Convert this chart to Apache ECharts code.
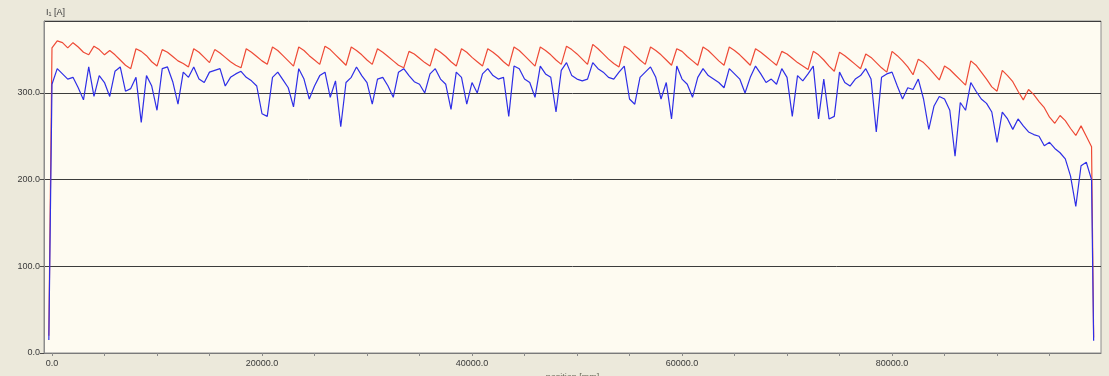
<!DOCTYPE html>
<html>
<head>
<meta charset="utf-8">
<script src="https://cdn.jsdelivr.net/npm/echarts@6/dist/echarts.min.js"></script>
<style>
html,body{margin:0;padding:0;background:#ECE9DB;}
#c{width:1109px;height:376px;}
</style>
</head>
<body>
<div id="c"></div>
<script>
// x positions [mm]
const pos = [-300,
0,500,1000,1500,2000,2500,3000,3500,4000,4500,
5000,5500,6000,6500,7000,7500,8000,8500,9000,9500,
10000,10500,11000,11500,12000,12500,13000,13500,14000,14500,
15000,15500,16000,16500,17000,17500,18000,18500,19000,19500,
20000,20500,21000,21500,22000,22500,23000,23500,24000,24500,
25000,25500,26000,26500,27000,27500,28000,28500,29000,29500,
30000,30500,31000,31500,32000,32500,33000,33500,34000,34500,
35000,35500,36000,36500,37000,37500,38000,38500,39000,39500,
40000,40500,41000,41500,42000,42500,43000,43500,44000,44500,
45000,45500,46000,46500,47000,47500,48000,48500,49000,49500,
50000,50500,51000,51500,52000,52500,53000,53500,54000,54500,
55000,55500,56000,56500,57000,57500,58000,58500,59000,59500,
60000,60500,61000,61500,62000,62500,63000,63500,64000,64500,
65000,65500,66000,66500,67000,67500,68000,68500,69000,69500,
70000,70500,71000,71500,72000,72500,73000,73500,74000,74500,
75000,75500,76000,76500,77000,77500,78000,78500,79000,79500,
80000,80500,81000,81500,82000,82500,83000,83500,84000,84500,
85000,85500,86000,86500,87000,87500,88000,88500,89000,89500,
90000,90500,91000,91500,92000,92500,93000,93500,94000,94500,
95000,95500,96000,96500,97000,97500,98000,98500,99000,
99200];

// red series (upper) [A]
const redVals = [20,
352,360,358,352,358,353,347,344,354,350,
344,349,344,338,332,328,351,348,343,336,
331,350,347,342,337,334,330,351,347,341,
335,350,346,341,336,332,329,351,347,342,
337,333,353,349,343,337,331,353,349,343,
338,333,354,350,344,338,332,353,349,344,
338,333,351,347,342,337,332,329,348,345,
340,335,331,351,347,342,336,331,351,347,
341,336,331,351,347,342,336,331,353,349,
343,337,331,353,349,344,338,333,354,350,
345,339,333,356,351,345,339,334,330,354,
350,344,338,333,353,349,344,338,332,351,
348,342,337,332,353,349,343,337,332,353,
349,344,338,332,351,347,342,337,332,348,
345,340,335,331,327,348,344,338,331,325,
347,343,338,333,328,345,341,335,329,324,
348,343,337,330,321,339,335,329,322,315,
331,327,321,315,309,337,332,324,316,307,
302,326,320,313,302,292,304,298,290,283,
272,265,274,268,259,251,262,250,238,
18];

// blue series (lower) [A]
const blueVals = [15,
310,328,322,316,318,306,292,330,296,320,
312,296,325,330,302,305,318,266,320,308,
280,328,330,313,287,324,318,330,316,312,
324,326,328,308,318,322,325,318,314,308,
276,273,318,324,315,306,284,328,316,293,
308,320,324,295,314,261,312,318,330,320,
312,287,316,318,308,295,324,328,320,313,
310,300,322,328,316,310,281,324,318,287,
312,300,322,328,320,316,318,273,331,328,
316,312,295,331,322,318,278,326,335,320,
316,314,316,335,328,324,318,316,324,331,
293,287,318,324,330,318,293,312,270,331,
316,310,295,318,328,320,316,312,306,328,
322,316,300,318,331,322,312,316,310,328,
318,273,320,314,322,331,270,316,270,273,
324,312,308,316,320,328,316,255,318,322,
324,308,293,306,304,316,293,258,285,296,
293,280,227,289,280,312,302,293,288,278,
243,278,270,258,270,262,255,252,250,239,
243,236,231,224,204,169,216,220,200,
14];

const xTickLabels = [0, 20000, 40000, 60000, 80000];
const xMinorTicks = [0,5000,10000,15000,20000,25000,30000,35000,40000,45000,50000,55000,60000,65000,70000,75000,80000,85000,90000,95000];

const redData = pos.map((p, i) => [p, redVals[i]]);
const blueData = pos.map((p, i) => [p, blueVals[i]]);

const chart = echarts.init(document.getElementById('c'), null, {renderer: 'canvas'});
const fontFam = '"Liberation Sans", Arial, sans-serif';
chart.setOption({
  backgroundColor: '#ECE9DB',
  animation: false,
  graphic: [{
    type: 'text', left: 46, top: 8,
    style: {text: 'I\u2081 [A]', fontSize: 9, fill: '#3a3a3a', fontFamily: fontFam}
  }],
  grid: {
    left: 44, right: 8, top: 21, bottom: 23,
    outerBoundsMode: 'none',
    containLabel: false,
    show: true,
    backgroundColor: '#FEFBF1',
    borderColor: '#8C8C8C',
    borderWidth: 1
  },
  xAxis: {
    type: 'value',
    min: -760,
    max: 99900,
    name: 'position [mm]',
    nameLocation: 'middle',
    nameGap: 19,
    nameTextStyle: {fontSize: 9, color: '#6a6a5a', fontFamily: fontFam},
    axisLine: {show: true, onZero: false, lineStyle: {color: '#7a7a7a', width: 1}},
    axisTick: {show: true, customValues: xMinorTicks, length: 3, lineStyle: {color: '#8a8a8a'}},
    axisLabel: {
      customValues: xTickLabels,
      formatter: v => v.toFixed(1),
      fontSize: 9, color: '#3a3a3a', fontFamily: fontFam, margin: 6
    },
    splitLine: {show: false}
  },
  yAxis: {
    type: 'value',
    min: 0,
    max: 383,
    interval: 100,
    axisLine: {show: true, onZero: false, lineStyle: {color: '#8C8C8C', width: 1}},
    axisTick: {show: true, length: 4, lineStyle: {color: '#4a4a4a'}},
    axisLabel: {
      formatter: v => v.toFixed(1),
      showMaxLabel: false,
      fontSize: 9, color: '#3a3a3a', fontFamily: fontFam, margin: 4
    },
    splitLine: {show: true, lineStyle: {color: '#3C3C3C', width: 1}}
  },
  series: [
    {
      name: 'red', type: 'line', data: redData, showSymbol: false,
      lineStyle: {color: '#EE4A36', width: 1.2}, itemStyle: {color: '#EE4A36'}, z: 2
    },
    {
      name: 'blue', type: 'line', data: blueData, showSymbol: false,
      lineStyle: {color: '#2E2EE6', width: 1.2}, itemStyle: {color: '#2E2EE6'}, z: 3
    }
  ]
});
</script>
</body>
</html>
